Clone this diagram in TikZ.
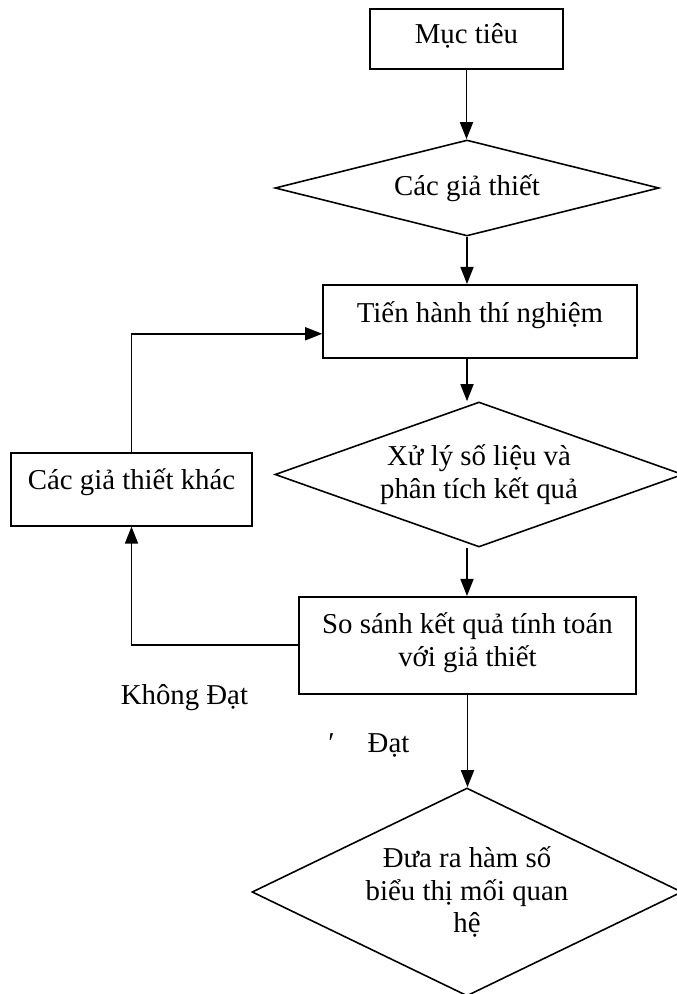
\documentclass[tikz,border=0pt]{standalone}
\usepackage{fontspec}
\setmainfont{Liberation Serif}
\usetikzlibrary{shapes.geometric,arrows.meta}

\begin{document}
\begin{tikzpicture}[line width=0.9pt,>={Triangle[length=3.4mm,width=2.6mm]},
	every node/.style={font=\fontsize{16.4}{18.7}\selectfont},
	block/.style={draw,rectangle,anchor=north,inner sep=0pt,align=center},
	choice/.style={draw,diamond,inner sep=0pt,align=center}]
		\useasboundingbox (0,0) rectangle (13.54,19.88);
		\node[block,minimum width=3.86cm,text height=0.70cm,text depth=0.50cm] (muctieu) at (9.33,19.72) {Mục tiêu};
		\node[choice,minimum width=7.68cm,minimum height=1.92cm,aspect=4] (giathiet) at (9.34,16.12) {Các giả thiết};
		\node[block,minimum width=6.28cm,text height=0.75cm,text depth=0.71cm] (thinghiem) at (9.60,14.20) {Tiến hành thí nghiệm};
		\node[choice,minimum width=8.16cm,minimum height=2.90cm,aspect=2.8] (xuly) at (9.58,10.39) {Xử lý số liệu và\\phân tích kết quả};
		\node[block,minimum width=6.74cm,text height=1.39cm,text depth=0.55cm] (sosanh) at (9.35,7.96) {So sánh kết quả tính toán\\với giả thiết};
		\node[block,minimum width=4.82cm,text height=0.74cm,text depth=0.72cm] (khac) at (2.63,10.84) {Các giả thiết khác};
		\node[choice,minimum width=8.60cm,minimum height=4.16cm,aspect=2] (hamso) at (9.34,2.04) {Đưa ra hàm số\\biểu thị mối quan\\hệ};
		\node[anchor=base west,inner sep=0pt] (khongdat) at (2.40,5.78) {Không Đạt};
		\node[anchor=base west,inner sep=0pt] (dat) at (6.55,4.82) {′\hspace{1.15em}Đạt};
		\draw[->] (muctieu.south) -- (muctieu.south |- giathiet.north);
		\draw[->] (giathiet.south) -- (giathiet.south |- thinghiem.north);
		\draw[->] (giathiet.south |- thinghiem.south) -- (giathiet.south |- xuly.north);
		\draw[->] (giathiet.south |- xuly.south) -- (giathiet.south |- sosanh.north);
		\draw[->] (sosanh.south) -- (sosanh.south |- hamso.north);
		\draw[->] (sosanh.west) -| (khac.south);
		\draw[->] (khac.north) |- ([yshift=-0.25cm]thinghiem.west);
\end{tikzpicture}
\end{document}
